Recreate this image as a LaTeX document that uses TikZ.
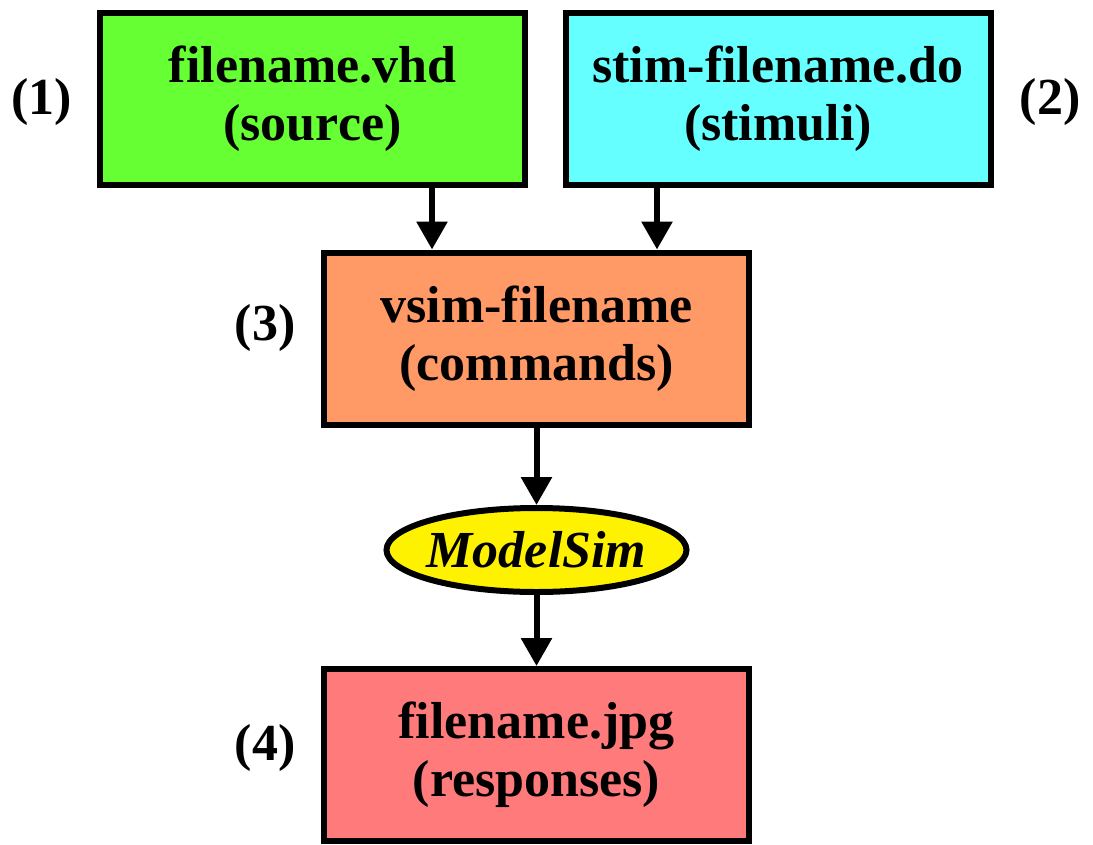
\documentclass[tikz,border=0pt]{standalone}
\usepackage{fontspec}
\setmainfont{Liberation Serif}
\usetikzlibrary{arrows.meta,shapes.geometric}
\definecolor{srcgreen}{HTML}{66FF33}
\definecolor{stimcyan}{HTML}{66FFFF}
\definecolor{cmdorange}{HTML}{FF9966}
\definecolor{resppink}{HTML}{FF7B7B}
\begin{document}
\begin{tikzpicture}[x=1pt, y=-1pt]
        \tikzstyle{file}=[draw, line width=6pt, minimum width=425pt,
            minimum height=172pt, align=center, inner sep=0pt,
            font=\fontsize{52}{58}\selectfont\bfseries]
        \tikzstyle{num}=[font=\fontsize{52}{58}\selectfont\bfseries]
        \tikzstyle{arr}=[line width=6pt, -{Triangle[length=28pt, width=30pt]}]

        \useasboundingbox (0, 0) rectangle (1093, 844);

        \node[file, fill=srcgreen] (vhd) at (312.5, 99) {filename.vhd\\(source)};
        \node[file, fill=stimcyan] (stim) at (778, 99) {stim-filename.do\\(stimuli)};
        \node[file, fill=cmdorange] (vsim) at (536.5, 338.5) {vsim-filename\\(commands)};
        \node[draw, ellipse, line width=6pt, fill=yellow, minimum width=300pt,
            minimum height=84pt, inner ysep=0pt, inner xsep=-20pt,
            font=\fontsize{52}{58}\selectfont\bfseries\itshape] (sim) at (536.5, 550) {ModelSim};
        \node[file, fill=resppink] (jpg) at (536.5, 755) {filename.jpg\\(responses)};

        \node[num] (n1) at (42, 102) {(1)};
        \node[num] (n2) at (1050, 102) {(2)};
        \node[num] (n3) at (265, 328) {(3)};
        \node[num] (n4) at (265, 748) {(4)};

        \coordinate (in1) at ([xshift=-104.5pt]vsim.north);
        \coordinate (in2) at ([xshift=120.5pt]vsim.north);

        \draw[arr] (vhd.south -| in1) to (in1);
        \draw[arr] (stim.south -| in2) to (in2);
        \draw[arr] (vsim) to (sim);
        \draw[arr] (sim) to (jpg);
    \end{tikzpicture}
\end{document}
